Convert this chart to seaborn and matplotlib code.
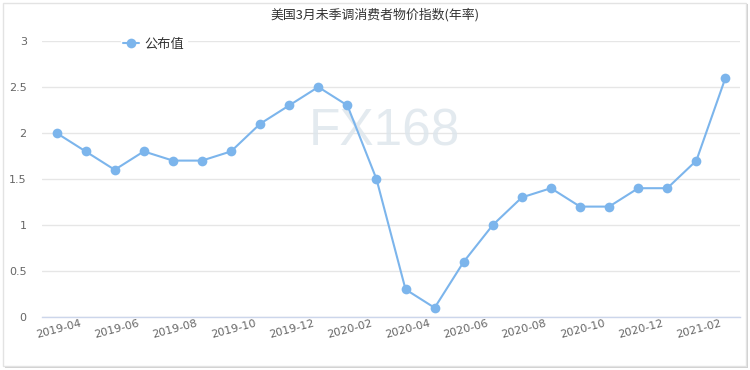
import matplotlib
matplotlib.use("Agg")
import matplotlib.pyplot as plt
import seaborn as sns
import pandas as pd
from matplotlib.patches import Rectangle

months = ["2019-03", "2019-04", "2019-05", "2019-06", "2019-07", "2019-08", "2019-09",
          "2019-10", "2019-11", "2019-12", "2020-01", "2020-02", "2020-03", "2020-04",
          "2020-05", "2020-06", "2020-07", "2020-08", "2020-09", "2020-10", "2020-11",
          "2020-12", "2021-01", "2021-02"]
values = [2.0, 1.8, 1.6, 1.8, 1.7, 1.7, 1.8, 2.1, 2.3, 2.5, 2.3, 1.5, 0.3, 0.1,
          0.6, 1.0, 1.3, 1.4, 1.2, 1.2, 1.4, 1.4, 1.7, 2.6]
y_ticks = [0, 0.5, 1, 1.5, 2, 2.5, 3]
y_tick_labels = ["0", "0.5", "1", "1.5", "2", "2.5", "3"]
title = "美国3月未季调消费者物价指数(年率)"
series_name = "公布值"

sns.set_theme(style="white")
plt.rcParams['font.family'] = ['Noto Sans CJK SC', 'DejaVu Sans']

df = pd.DataFrame({"pos": range(len(months)), "value": values})

fig = plt.figure(figsize=(7.5, 3.7), dpi=100)
fig.patch.set_facecolor("white")
# frame with shadow
fig.patches.append(Rectangle((5 / 750, 1 - 368 / 370), 743 / 750, 364 / 370,
                             transform=fig.transFigure, facecolor="#d0d0d0",
                             edgecolor="none", zorder=-10))
fig.patches.append(Rectangle((3 / 750, 1 - 366 / 370), 743 / 750, 363 / 370,
                             transform=fig.transFigure, facecolor="white",
                             edgecolor="#e3e3e3", linewidth=1, zorder=-9))

ax = fig.add_axes([42 / 750, 1 - 317 / 370, 698 / 750, 276 / 370])
ax.set_facecolor("none")
ax.set_zorder(5)

sns.lineplot(data=df, x="pos", y="value", ax=ax, color="#7cb5ec", linewidth=1.5,
             marker="o", markersize=7, markeredgewidth=0, label=series_name, zorder=3)

ax.set_xlim(-0.5, len(months) - 0.5)
ax.set_ylim(0, 3)
ax.set_yticks(y_ticks)
ax.set_yticklabels(y_tick_labels)
ax.grid(axis="y", color="#e6e6e6", linewidth=1)
ax.grid(axis="x", visible=False)
for s in ["top", "right", "left"]:
    ax.spines[s].set_visible(False)
ax.spines["bottom"].set_color("#ccd6eb")
ax.spines["bottom"].set_linewidth(1)

tick_idx = list(range(1, len(months), 2))
label_offset = -0.2  # labels sit slightly left of their category
ax.set_xticks([i + label_offset for i in tick_idx])
ax.set_xticklabels([months[i] for i in tick_idx], rotation=15, ha="right",
                   rotation_mode="anchor", color="#666666", fontsize=8,
                   family=["DejaVu Sans"])
ax.tick_params(axis="x", length=0, pad=1)
ax.tick_params(axis="y", length=0, pad=11, labelcolor="#666666", labelsize=8)
for lbl in ax.get_yticklabels():
    lbl.set_family(["DejaVu Sans"])
    lbl.set_horizontalalignment("right")
ax.set_xlabel("")
ax.set_ylabel("")

ax.text(0.491, 0.672, "FX168", transform=ax.transAxes, ha="center", va="center",
        fontsize=37, color="#dde5ec", alpha=0.8, family=["Liberation Sans"], zorder=2.5)

fig.text(0.5, 1 - 15 / 370, title, ha="center", va="center", fontsize=9.3, color="#333333")

leg = ax.legend(loc="upper left", bbox_to_anchor=(72 / 698, 1.045), frameon=True,
                facecolor="white", edgecolor="white", framealpha=1,
                prop={"size": 9.5}, handlelength=1.2,
                borderpad=0.2, handletextpad=0.4)
for t in leg.get_texts():
    t.set_color("#333333")

fig.savefig("out.png", dpi=100)
